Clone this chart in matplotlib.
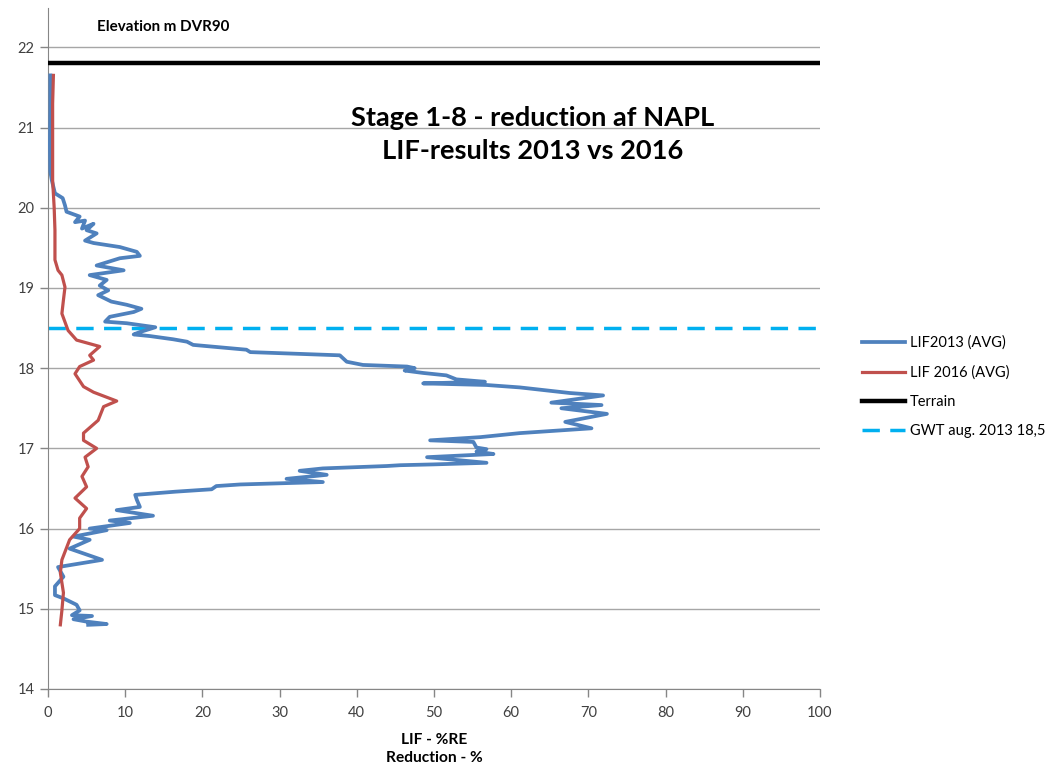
import matplotlib
matplotlib.use('Agg')
import matplotlib.pyplot as plt
import numpy as np

plt.rcParams['font.family'] = ['Lato', 'DejaVu Sans']

# LIF 2013 profile (%RE) vs elevation
lif2013 = [0.3, 0.3, 0.25, 0.3, 0.5, 0.9, 1.9, 2.2, 2.4, 4.1, 3.5, 4.8, 4.4, 5.9, 5.0, 6.3,
           4.8, 5.9, 9.3, 11.5, 11.9, 9.3, 6.3, 9.8, 5.4, 7.6, 6.7, 7.8, 6.5, 8.2, 10.2, 12.1,
           11.1, 8.0, 7.4, 10.2, 13.9, 11.9, 11.1, 13.2, 16.2, 18.0, 18.8, 25.7, 26.2, 37.8,
           38.7, 40.8, 46.5, 47.5, 46.2, 48.6, 51.6, 52.9, 56.6, 48.6, 56.8, 61.1, 67.6, 71.9,
           65.2, 71.7, 66.5, 72.4, 67.0, 70.4, 61.1, 56.0, 49.5, 55.1, 55.5, 56.8, 55.5, 57.7,
           49.1, 56.8, 49.9, 45.6, 43.9, 35.6, 32.6, 36.1, 30.9, 35.6, 24.9, 21.8, 21.2, 16.5,
           11.3, 11.5, 11.9, 8.9, 13.6, 8.0, 10.6, 5.4, 7.6, 3.3, 5.4, 2.8, 7.0, 1.3, 2.0, 0.9,
           0.9, 2.0, 3.7, 4.1, 3.1, 5.7, 3.3, 5.0, 7.6, 5.2]
elev2013 = [21.65, 21.2, 20.8, 20.45, 20.34, 20.18, 20.12, 20.03, 19.95, 19.89, 19.82, 19.84,
            19.74, 19.80, 19.72, 19.68, 19.59, 19.56, 19.51, 19.45, 19.40, 19.37, 19.28, 19.22,
            19.16, 19.10, 19.03, 18.97, 18.91, 18.83, 18.79, 18.74, 18.70, 18.64, 18.58, 18.56,
            18.51, 18.45, 18.42, 18.40, 18.36, 18.33, 18.29, 18.23, 18.20, 18.16, 18.08, 18.04,
            18.02, 18.00, 17.97, 17.94, 17.91, 17.86, 17.83, 17.81, 17.79, 17.76, 17.69, 17.66,
            17.57, 17.54, 17.50, 17.43, 17.33, 17.25, 17.19, 17.14, 17.10, 17.08, 17.01, 16.99,
            16.96, 16.93, 16.89, 16.82, 16.80, 16.79, 16.78, 16.75, 16.72, 16.67, 16.62, 16.58,
            16.55, 16.53, 16.49, 16.46, 16.42, 16.36, 16.27, 16.23, 16.16, 16.10, 16.07, 16.00,
            15.98, 15.90, 15.86, 15.75, 15.61, 15.52, 15.40, 15.28, 15.17, 15.13, 15.05, 14.98,
            14.92, 14.91, 14.87, 14.84, 14.81, 14.80]

# LIF 2016 profile
lif2016 = [0.7, 0.6, 0.6, 0.6, 0.6, 0.8, 0.9, 0.9, 1.3, 1.8, 2.2, 2.0, 1.8, 2.6, 3.7, 6.7,
           5.4, 5.9, 4.1, 3.5, 4.6, 5.9, 8.9, 7.2, 6.5, 4.6, 4.6, 6.3, 4.8, 5.2, 4.4, 5.0, 3.5,
           5.0, 4.1, 4.1, 2.8, 1.8, 1.6, 2.0, 1.8, 1.6]
elev2016 = [21.65, 21.3, 20.9, 20.5, 20.34, 20.0, 19.72, 19.35, 19.22, 19.16, 19.01, 18.85,
            18.68, 18.47, 18.35, 18.27, 18.16, 18.10, 18.02, 17.93, 17.77, 17.70, 17.59, 17.52,
            17.35, 17.19, 17.10, 17.00, 16.89, 16.77, 16.65, 16.52, 16.38, 16.25, 16.13, 16.00,
            15.86, 15.61, 15.45, 15.20, 14.98, 14.80]

terrain = 21.8
gwt = 18.5

fig = plt.figure(figsize=(10.48, 7.63), dpi=100)
ax = fig.add_axes([48 / 1048, 74 / 763, 772 / 1048, 681 / 763])

ax.plot(lif2013, elev2013, color='#4F81BD', lw=2.7, solid_joinstyle='round',
        label='LIF2013 (AVG)', zorder=3)
ax.plot(lif2016, elev2016, color='#C0504D', lw=2.3, solid_joinstyle='round',
        label='LIF 2016 (AVG)', zorder=4)
ax.axhline(terrain, color='black', lw=3.2, label='Terrain', zorder=5)
ax.axhline(gwt, color='#00B0F0', lw=2.5, dashes=(5, 3), label='GWT aug. 2013 18,5', zorder=2)

ax.set_xlim(0, 100)
ax.set_ylim(14, 22.49)
ax.set_xticks(np.arange(0, 101, 10))
ax.set_yticks(np.arange(14, 23, 1))
ax.grid(axis='y', color='#A6A6A6', lw=1)
ax.set_axisbelow(True)
for s in ['top', 'right']:
    ax.spines[s].set_visible(False)
for s in ['left', 'bottom']:
    ax.spines[s].set_color('#868686')
ax.tick_params(colors='#868686', labelcolor='#404040', labelsize=10.5, length=6, width=1)
ax.tick_params(axis='x', pad=6)

ax.set_xlabel('LIF - %RE\nReduction - %', fontweight='bold', fontsize=11.2, labelpad=9.5,
              linespacing=1.35)

fig.text(97 / 1048, 1 - 27 / 763, 'Elevation m DVR90', fontweight='bold', fontsize=10.9,
         va='center', ha='left')
fig.text(533 / 1048, 1 - 134.5 / 763, 'Stage 1-8 - reduction af NAPL\nLIF-results 2013 vs 2016',
         fontweight='bold', fontsize=19.6, ha='center', va='center', linespacing=1.45)

fig.legend(loc='center left', bbox_to_anchor=(849 / 1048, 1 - 387 / 763), frameon=False,
           fontsize=10.5, handlelength=2.95, handletextpad=0.3, labelspacing=1.05)

fig.savefig('out.png', dpi=100)
